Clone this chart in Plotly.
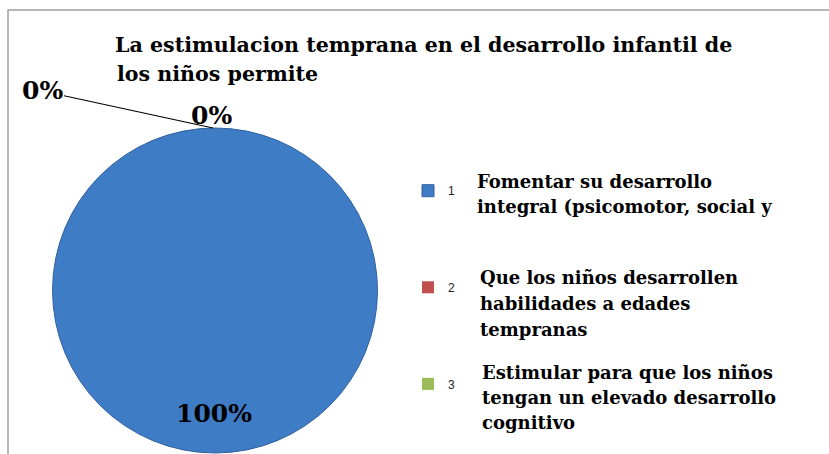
import plotly.graph_objects as go

W, H = 829, 454

# ---- data ----
categories = ["1", "2", "3"]
values = [100, 0, 0]
colors = ["#3F7CC6", "#C0504D", "#9BBB59"]
descriptions = [
    ["Fomentar su desarrollo", "integral (psicomotor, social y"],
    ["Que los niños desarrollen", "habilidades a edades", "tempranas"],
    ["Estimular para que los niños", "tengan un elevado desarrollo", "cognitivo"],
]
title_lines = ["La estimulacion temprana en el desarrollo infantil de", "los niños permite"]

total = sum(values)
pct = [f"{v / total * 100:.0f}%" for v in values]


def px(x):
    return x / W


def py(y):
    return 1 - y / H


# pie geometry (pixels)
cx, cy, r = 215, 290.5, 162.5

# legend entry names: blank lines before the number keep the entries apart
legend_names = [("\u00a0<br>" * (0 if i == 0 else 5)) + c for i, c in enumerate(categories)]

fig = go.Figure()
fig.add_trace(go.Pie(
    labels=legend_names,
    values=values,
    sort=False,
    direction="clockwise",
    marker=dict(colors=colors, line=dict(color="#31609F", width=[1, 0, 0])),
    textinfo="none",
    hoverinfo="percent",
    domain=dict(x=[px(cx - r), px(cx + r)], y=[py(cy + r), py(cy - r)]),
))

serif = "DejaVu Serif"
lab_font = dict(family=serif, size=25, color="#000000", weight="bold")
title_font = dict(family=serif, size=20.6, color="#000000", weight="bold")
desc_font = dict(family=serif, size=18, color="#000000", weight="bold")

ann = []
# 100% label inside the slice, near the bottom
ann.append(dict(x=px(214), y=py(413), xref="paper", yref="paper", text=pct[0],
                showarrow=False, font=lab_font, xanchor="center", yanchor="middle"))
# 0% label at the top of the pie
ann.append(dict(x=px(211), y=py(115), xref="paper", yref="paper", text=pct[2],
                showarrow=False, font=lab_font, xanchor="center", yanchor="middle"))
# 0% label with leader line
ann.append(dict(x=px(213), y=py(128), xref="paper", yref="paper", text=pct[1],
                showarrow=True, arrowhead=0, arrowwidth=1.2, arrowcolor="#000000",
                ax=42 - 213, ay=91 - 128, standoff=0, startstandoff=0, font=lab_font))

# title second line
ann.append(dict(x=px(115), y=py(74), xref="paper", yref="paper", text=title_lines[1],
                showarrow=False, xanchor="left", yanchor="middle", font=title_font))

# legend descriptions
desc_x = [475, 478, 480]
desc_y = [[181, 206], [277, 303, 329], [372, 397, 422]]
for lines, x0, ys in zip(descriptions, desc_x, desc_y):
    for line, yy in zip(lines, ys):
        ann.append(dict(x=px(x0), y=py(yy), xref="paper", yref="paper",
                        text=line, showarrow=False,
                        xanchor="left", yanchor="middle", font=desc_font))

fig.update_layout(
    width=W, height=H,
    margin=dict(l=0, r=0, t=0, b=0, autoexpand=False),
    paper_bgcolor="white",
    plot_bgcolor="white",
    title=dict(text=title_lines[0], x=px(115), xanchor="left",
               y=py(45), yanchor="middle", font=title_font),
    legend=dict(x=px(408), y=py(176), xanchor="left", yanchor="top",
                valign="bottom", font=dict(family="Arial", size=12, color="#222222"),
                bgcolor="rgba(0,0,0,0)", borderwidth=0),
    annotations=ann,
    shapes=[dict(type="path", xref="paper", yref="paper",
                 path=f"M {px(8)},{py(454)} L {px(8)},{py(10)} L {px(829)},{py(10)}",
                 line=dict(color="#A0A0A0", width=1.5))],
)

fig.write_html("out.html", config={"displayModeBar": False},
               post_script="document.body.style.margin='0px';")
